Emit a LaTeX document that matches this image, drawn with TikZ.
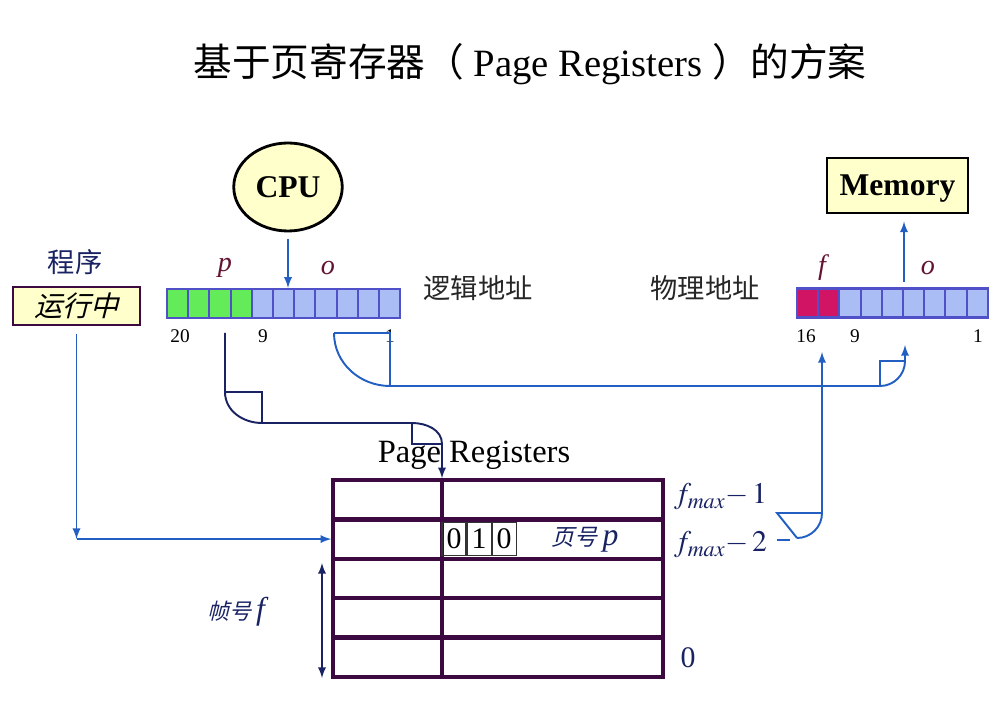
\documentclass[tikz,border=0pt]{standalone}
\usepackage{mathptmx}
\usepackage{fontspec}
\setmainfont{Liberation Serif}
\newfontfamily\cjk{Noto Sans CJK SC}
\newfontfamily\cjkit[FakeSlant=0.25]{Noto Sans CJK SC}
\usetikzlibrary{shapes}
\usetikzlibrary{arrows}
\usetikzlibrary{positioning}

\definecolor{lineblue}{RGB}{35,95,195}
\definecolor{navy}{RGB}{25,35,100}
\definecolor{tabline}{RGB}{60,10,65}
\definecolor{regedge}{RGB}{80,80,200}
\definecolor{regblue}{RGB}{170,190,245}
\definecolor{reggreen}{RGB}{100,235,90}
\definecolor{regred}{RGB}{210,20,100}
\definecolor{paleyellow}{RGB}{255,255,204}
\definecolor{darkred}{RGB}{100,20,50}

\begin{document}
\begin{tikzpicture}

\tikzstyle{regcell}=[rectangle, minimum width=4.24mm, minimum height=5.8mm, inner sep=0pt, line width=1.2pt, draw=regedge, fill=regblue]
\tikzstyle{slot}=[rectangle, minimum height=7.88mm, inner sep=0pt, outer sep=0pt, line width=2.6pt, draw=tabline]
\tikzstyle{bit}=[rectangle, minimum width=4.8mm, minimum height=6.6mm, inner sep=0pt, draw=black!80, line width=0.6pt, font=\fontsize{17}{20}\selectfont]
\tikzstyle{unit}=[draw=black, line width=1.6pt, fill=paleyellow]
\tikzstyle{numtag}=[font=\fontsize{11}{13}\selectfont]
\tikzstyle{field}=[font=\fontsize{16}{18}\selectfont\itshape, text=darkred]
\tikzstyle{cjktext}=[font=\fontsize{15.5}{18}\selectfont\cjk, text=black!85]

\tikzstyle{connect}=[-latex, line width=1.1pt, draw=lineblue]
\tikzstyle{oline}=[line width=1.1pt, draw=lineblue]
\tikzstyle{pline}=[line width=1.1pt, draw=navy]

\useasboundingbox (0,0) rectangle (20.16,-14.56);

\node (title) at (10.6,-1.28) {\fontsize{22}{26}\selectfont{\cjk 基于页寄存器（} Page Registers {\cjk ）的方案}};



\node[ellipse, unit, minimum width=2cm, minimum height=1.76cm, font=\fontsize{18}{20}\selectfont\bfseries] (cpu) at (5.76,-3.74) {CPU};
\node[rectangle, unit, minimum width=2.82cm, minimum height=1.1cm, text depth=0pt, font=\fontsize{18}{20}\selectfont\bfseries] (mem) at (17.95,-3.71) {Memory};

\node[cjktext, text=navy] (prog) at (1.5,-5.24) {程序};
\node[rectangle, unit, draw=tabline, minimum width=2.54cm, minimum height=0.76cm, font=\fontsize{16}{18}\selectfont\cjkit] (run) at (1.53,-6.12) {运行中};



\foreach \i in {0,...,3} \node[regcell, fill=reggreen] (lc\i) at ({3.552+0.424*\i},-6.07) {};
\foreach \i in {4,...,10} \node[regcell] (lc\i) at ({3.552+0.424*\i},-6.07) {};

\foreach \i in {0,1} \node[regcell, fill=regred] (pc\i) at ({16.152+0.424*\i},-6.06) {};
\foreach \i in {2,...,8} \node[regcell] (pc\i) at ({16.152+0.424*\i},-6.06) {};

\node[field] (lp) at (4.5,-5.36) {p};
\node[field] (lo) at (6.56,-5.36) {o};
\node[field] (pf) at (16.44,-5.36) {f};
\node[field] (po) at (18.56,-5.36) {o};

\node[numtag] (n20) at (3.6,-6.72) {20};
\node[numtag] (n9) at (5.26,-6.72) {9};
\node[numtag] (n1) at (7.8,-6.72) {1};
\node[numtag] (m16) at (16.12,-6.72) {16};
\node[numtag] (m9) at (17.1,-6.72) {9};
\node[numtag] (m1) at (19.56,-6.72) {1};

\node[cjktext] (laddr) at (9.56,-5.76) {逻辑地址};
\node[cjktext] (paddr) at (14.1,-5.76) {物理地址};



\foreach \i in {1,...,5} {
  \node[slot, minimum width=21.8mm] (fl\i) at (7.75,{-9.206-0.788*\i}) {};
  \node[slot, minimum width=44.2mm] (pr\i) at (11.05,{-9.206-0.788*\i}) {};
}

\node[bit] (b1) at (9.08,-10.782) {0};
\node[bit, right=0pt of b1] (b2) {1};
\node[bit, right=0pt of b2] (b3) {0};
\node[font=\fontsize{13}{16}\selectfont\cjkit, text=navy] (pnum) at (11.7,-10.8) {页号\ {\rmfamily\itshape\fontsize{18}{20}\selectfont p}};

\node[font=\fontsize{18.5}{22}\selectfont] (preg) at (9.48,-9.1) {Page Registers};

\node[anchor=west, font=\fontsize{17}{20}\selectfont, text=navy] (fm1) at (13.36,-9.94) {$f_{max}{-}\,1$};
\node[anchor=west, font=\fontsize{17}{20}\selectfont, text=navy] (fm2) at (13.36,-10.9) {$f_{max}{-}\,2$};
\node[font=\fontsize{17}{20}\selectfont, text=navy] (fz) at (13.76,-13.16) {0};

\node[font=\fontsize{12.5}{15}\selectfont\cjkit, text=navy] (fnum) at (4.72,-12.24) {帧号\ {\rmfamily\itshape\fontsize{18}{20}\selectfont f}};



\coordinate (cpuin) at (cpu.south |- lc5.north);
\draw[connect] ([yshift=-1.4mm]cpu.south) -- (cpuin);

\coordinate (memout) at (18.08,-5.64);
\draw[connect, shorten >=1.4mm] (memout) -- (memout |- mem.south);

\coordinate (runbend) at (run.south |- fl2.west);
\draw[connect, shorten <=1.5mm] (run.south) -- (runbend);
\draw[connect, shorten >=1pt] (runbend) -- (fl2.west);

\coordinate (ptap) at (4.5,-6.66);
\draw[pline, -latex, shorten >=1pt] (ptap) -- (4.5,-7.84) to[out=-90,in=180] (5.24,-8.46) -- (8.24,-8.46) to[out=0,in=90] (8.84,-8.88) -- (pr1.north west);
\draw[pline] (4.5,-7.84) -- (5.24,-7.84) -- (5.24,-8.46);
\draw[pline] (8.24,-8.46) -- (8.24,-8.88) -- (8.84,-8.88);

\coordinate (otap) at (6.68,-6.66);
\coordinate (ohead) at (18.1,-6.9);
\draw[connect] (otap) to[out=-90,in=180] (7.8,-7.72) -- (17.6,-7.72) to[out=0,in=-90] (18.1,-7.22) -- (ohead);
\draw[oline] (otap) -- (7.8,-6.66) -- (7.8,-7.72);
\draw[oline] (17.6,-7.72) -- (17.6,-7.22) -- (18.1,-7.22);

\coordinate (ftap) at (15.54,-10.8);
\coordinate (fhead) at (16.44,-7.04);
\draw[connect] (15.94,-10.76) to[out=0,in=-90] (16.44,-10.26) -- (fhead);
\draw[oline] (15.94,-10.76) -- (15.54,-10.26) -- (16.44,-10.26);
\draw[oline] (ftap) -- (15.8,-10.8);

\coordinate (ftop) at (6.44,-11.26);
\coordinate (fbot) at (6.44,-13.56);
\draw[pline, latex-latex] (ftop) -- (fbot);

\end{tikzpicture}
\end{document}
